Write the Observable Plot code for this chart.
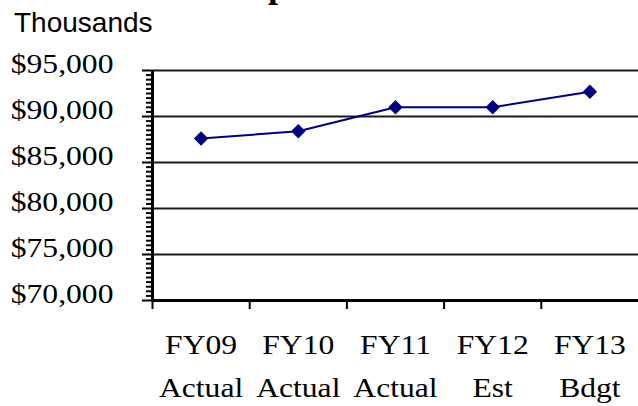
<!DOCTYPE html>
<html>
<head>
<meta charset="utf-8">
<script src="https://cdn.jsdelivr.net/npm/d3@7"></script>
<script src="https://cdn.jsdelivr.net/npm/@observablehq/plot@0.6"></script>
<style>
  html, body { margin: 0; padding: 0; background: #fff; }
  #chart { position: relative; width: 638px; height: 406px; overflow: hidden; background: #fff; }
  #head { position: relative; height: 50px; }
  #title { position: absolute; left: 226px; top: -32.7px; white-space: nowrap;
           font: bold 36px/1 "Liberation Serif", "Times New Roman", serif; color: #000; }
  #units { position: absolute; left: 14px; top: 9.3px;
           font: 28px/1 "Liberation Sans", Arial, sans-serif; color: #000; }
  svg { display: block; }
</style>
</head>
<body>
<div id="chart">
  <div id="head">
    <div id="title">Expenditures</div>
    <div id="units">Thousands</div>
  </div>
</div>
<script>
// Fiscal years, their status, and spending in thousands of dollars
const years = ["FY09", "FY10", "FY11", "FY12", "FY13"];
const stages = ["Actual", "Actual", "Actual", "Est", "Bdgt"];
const spending = [87600, 88400, 91000, 91000, 92700];
const yTicks = [70000, 75000, 80000, 85000, 90000, 95000];
const minorStep = 500;

const rows = years.map((fy, i) => ({i, fy, stage: stages[i], value: spending[i]}));
const yMin = yTicks[0], yMax = yTicks[yTicks.length - 1];
const minorTicks = d3.range(yMin, yMax, minorStep).filter((v) => !yTicks.includes(v));
const categoryEdges = years.map((_, i) => i - 0.5);

const serif = '"Liberation Serif", "Times New Roman", serif';

const chart = Plot.plot({
  width: 638,
  height: 356,
  marginTop: 20,
  marginBottom: 106,
  marginLeft: 152,
  marginRight: 0,
  x: {domain: [-0.5, years.length - 0.5], axis: null, label: null},
  y: {domain: [yMin, yMax], axis: null, label: null},
  style: {fontFamily: serif, fontSize: "28px", color: "#000", background: "#fff", overflow: "visible"},
  marks: [
    // horizontal gridlines
    Plot.ruleY(yTicks.slice(1), {stroke: "#1a1a1a", strokeWidth: 2}),
    // minor and major tick marks on the value axis
    Plot.axisY(minorTicks, {anchor: "left", tickSize: 6, tickFormat: () => "", label: null, strokeWidth: 2}),
    Plot.axisY(yTicks, {anchor: "left", tickSize: 10, tickFormat: () => "", label: null, strokeWidth: 2}),
    Plot.text(yTicks, {y: (d) => d, text: d3.format("$,"), frameAnchor: "left", textAnchor: "end", dx: -39, dy: 2}),
    // category boundary ticks
    Plot.axisX(categoryEdges, {anchor: "bottom", tickSize: 9, tickFormat: () => "", label: null, strokeWidth: 2}),
    // axis lines
    Plot.ruleX([-0.5], {stroke: "#000", strokeWidth: 3}),
    Plot.ruleY([yMin], {stroke: "#000", strokeWidth: 3}),
    // spending series
    Plot.line(rows, {x: "i", y: "value", stroke: "#000080", strokeWidth: 2}),
    Plot.dot(rows, {x: "i", y: "value", symbol: "diamond2", r: 6.5, fill: "#000080", stroke: "none"}),
    // two-line category labels
    Plot.text(rows, {
      x: "i",
      text: (d) => `${d.fy}\n${d.stage}`,
      frameAnchor: "bottom",
      lineAnchor: "bottom",
      lineHeight: 1.55,
      dy: 96.7
    })
  ]
});

// widen the serif labels slightly, keeping each anchored in place
for (const t of chart.querySelectorAll("text")) {
  const x = +t.getAttribute("x") || 0, y = +t.getAttribute("y") || 0;
  t.removeAttribute("x");
  t.removeAttribute("y");
  const tr = t.getAttribute("transform") || "";
  t.setAttribute("transform", `${tr} translate(${x},${y}) scale(1.13,1)`);
}

document.getElementById("chart").appendChild(chart);
</script>
</body>
</html>
